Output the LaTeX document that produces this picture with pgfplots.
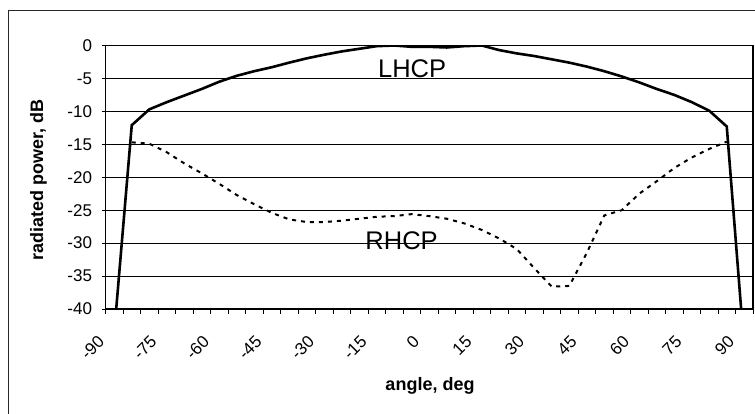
\documentclass[border=0pt]{standalone}
\usepackage{pgfplots}
\pgfplotsset{compat=1.18}
\usepackage{fontspec}
\setmainfont{Liberation Sans}

\begin{document}
\begin{tikzpicture}
\useasboundingbox (0,0) rectangle (755pt,414pt);
% chart area border (only left and top are inside the picture)
\draw[line width=0.9pt, black!85] (8pt,0pt) -- (8pt,404pt) -- (755pt,404pt);
\begin{axis}[
  at={(105.5pt,105pt)}, anchor=south west,
  scale only axis, width=647.5pt, height=263.5pt,
  xmin=-92.5, xmax=92.5, ymin=-40, ymax=0,
  xtick={-90,-75,...,90},
  xticklabels={-90,-75,-60,-45,-30,-15,0,15,30,45,60,75,90},
  minor xtick={-92.5,-87.5,...,92.5},
  ytick={-40,-35,...,0},
  yticklabels={-40,-35,-30,-25,-20,-15,-10,-5,0},
  xtick pos=bottom, ytick pos=left,
  ymajorgrids,
  grid style={black, line width=0.8pt},
  tick align=outside,
  major tick length=4pt, minor tick length=5pt,
  tick style={black, line width=0.8pt},
  major x tick style={draw=none},
  axis line style={black, line width=1.2pt},
  ticklabel style={font=\fontsize{17}{17}\selectfont},
  yticklabel style={xshift=-6pt},
  xticklabel style={inner sep=0pt, xshift=-13pt, yshift=-26pt, rotate=45, anchor=east},
]
% LHCP
\addplot[black, line width=2.6pt] coordinates {
  (-90,-43.5) (-85,-12.1) (-80,-9.7) (-75,-8.6) (-70,-7.6) (-65,-6.6) (-60,-5.5)
  (-55,-4.6) (-50,-3.9) (-45,-3.3) (-40,-2.6) (-35,-1.95) (-30,-1.4) (-25,-0.9)
  (-20,-0.5) (-15,-0.1) (-10,0) (-5,-0.2) (0,-0.2) (5,-0.3) (10,-0.1) (15,0)
  (20,-0.7) (25,-1.2) (30,-1.6) (35,-2.1) (40,-2.6) (45,-3.2) (50,-3.9) (55,-4.7)
  (60,-5.6) (65,-6.6) (70,-7.5) (75,-8.6) (80,-9.9) (85,-12.3) (90,-46)
};
% RHCP
\addplot[black, line width=2pt, dash pattern=on 4pt off 5pt] coordinates {
  (-85,-14.7) (-80,-14.9) (-75,-16.2) (-70,-17.9) (-65,-19.4) (-60,-21.0)
  (-55,-22.7) (-50,-24.1) (-45,-25.4) (-40,-26.4) (-35,-26.8) (-30,-26.8)
  (-25,-26.6) (-20,-26.3) (-15,-26.0) (-10,-25.9) (-5,-25.6) (0,-25.9) (5,-26.3)
  (10,-27.0) (15,-28.0) (20,-29.3) (25,-30.9) (30,-33.8) (35,-36.6) (40,-36.5)
  (45,-31.5) (50,-25.8) (55,-25.0) (60,-22.5) (65,-20.6) (70,-18.6) (75,-17.0)
  (80,-15.7) (85,-14.6)
};
\node[font=\fontsize{25.5}{25.5}\selectfont] at (axis cs:-4.9,-3.55) {LHCP};
\node[font=\fontsize{25.5}{25.5}\selectfont] at (axis cs:-7.9,-29.65) {RHCP};
\end{axis}
\node[font=\bfseries\fontsize{18}{18}\selectfont] at (430pt,28.5pt) {angle, deg};
\node[font=\bfseries\fontsize{18}{18}\selectfont, rotate=90] at (38.5pt,234pt) {radiated power, dB};
\end{tikzpicture}
\end{document}
